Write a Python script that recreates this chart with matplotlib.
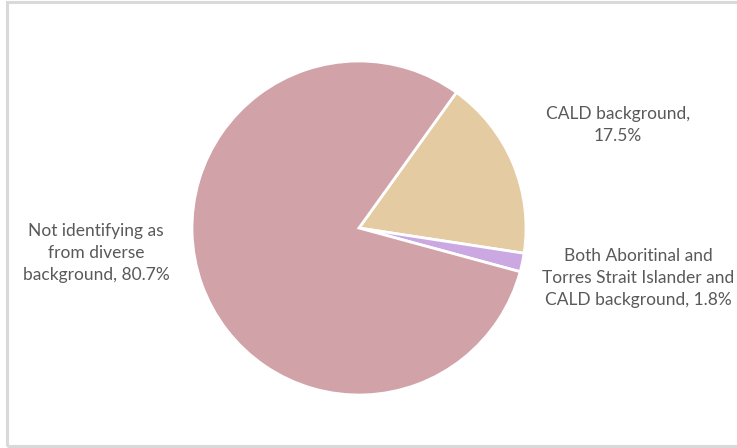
import matplotlib.pyplot as plt
from matplotlib.patches import Rectangle

plt.rcParams['font.family'] = ['Lato', 'DejaVu Sans']

labels = ["CALD background,\n17.5%",
          "Both Aboritinal and\nTorres Strait Islander and\nCALD background, 1.8%",
          "Not identifying as\nfrom diverse\nbackground, 80.7%"]
shares = [17.5, 1.8, 80.7]
colors = ["#E4CBA1", "#CBA8E2", "#D1A2A8"]

W, H = 737, 448
fig = plt.figure(figsize=(W / 100, H / 100), dpi=100)

# pie axes placed in pixel terms: centre (359, 228), radius 167
cx, cy, r = 359, 228, 167
ax = fig.add_axes([(cx - r) / W, (H - cy - r) / H, 2 * r / W, 2 * r / H])
ax.pie(shares, colors=colors, startangle=54.3, counterclock=False,
       wedgeprops=dict(edgecolor='white', linewidth=2))
ax.set_xlim(-1, 1)
ax.set_ylim(-1, 1)
ax.set_aspect('auto')
ax.axis('off')

# data labels
label_pos = [(618, 125), (638, 278), (96, 253)]
for lab, (x, y) in zip(labels, label_pos):
    fig.text(x / W, 1 - y / H, lab, ha='center', va='center',
             fontsize=12.5, color='#595959', linespacing=1.45)

# light frame round the chart area (right side runs off the image)
fig.patches.append(Rectangle((6.5 / W, 2.5 / H), 740 / W, 443 / H,
                             transform=fig.transFigure, fill=False,
                             edgecolor='#D9D9D9', linewidth=2.2))

fig.savefig("out.png", dpi=100)
